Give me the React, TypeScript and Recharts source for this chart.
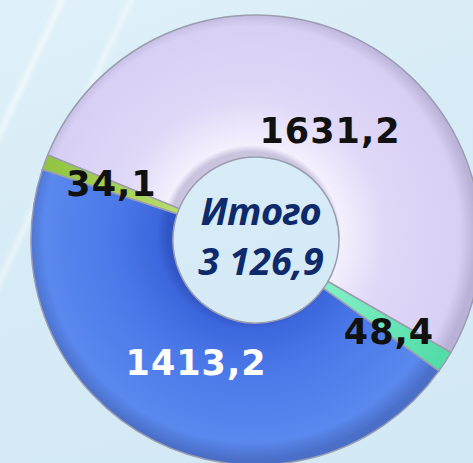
import { PieChart, Pie, Cell, Label } from "recharts";

// values (RU decimal comma)
const sliceNames = ["a", "b", "c", "d"];
const sliceValues = [1631.2, 34.1, 1413.2, 48.4];
const sliceLabels = ["1631,2", "34,1", "1413,2", "48,4"];
const totalTitle = "Итого";
const totalValue = "3 126,9";

const FILLS = ["url(#lav)", "url(#lime)", "url(#blue)", "url(#aqua)"];
const LABEL_COLORS = ["#111", "#111", "#fff", "#111"];
// label placement tweaks per slice: radius and angle shift (deg)
const LABEL_R = [132, 155, 137, 162];
const LABEL_DA = [-8, -1, 1, -2];

const CX = 251;
const CY = 235;
const R_IN = 83;
const R_OUT = 225;

const data = sliceNames.map((n, i) => ({ name: n, value: sliceValues[i] }));

const RAD = Math.PI / 180;

const renderLabel = (props: any) => {
  const { cx, cy, midAngle, index } = props;
  const a = (midAngle + LABEL_DA[index]) * RAD;
  const x = cx + LABEL_R[index] * Math.cos(a);
  const y = cy - LABEL_R[index] * Math.sin(a);
  return (
    <text
      x={x}
      y={y}
      textAnchor="middle"
      dominantBaseline="central"
      fill={LABEL_COLORS[index]}
      style={{
        fontFamily: "DejaVu Sans",
        fontWeight: 700,
        fontSize: 35,
        letterSpacing: 1,
      }}
    >
      {sliceLabels[index]}
    </text>
  );
};

const CenterText = (props: any) => {
  const vb = props.viewBox || {};
  const cx = vb.cx ?? CX;
  const cy = vb.cy ?? CY;
  const st = {
    fontFamily: "'Noto Sans', sans-serif",
    fontWeight: 700,
    fontStyle: "italic",
    fontSize: 38,
  } as const;
  return (
    <g>
      <text x={cx + 10} y={cy - 10} textAnchor="middle" fill="#0e2a6b" style={st}>
        {totalTitle}
      </text>
      <text x={cx + 10} y={cy + 40} textAnchor="middle" fill="#0e2a6b" style={st}>
        {totalValue}
      </text>
    </g>
  );
};

export default function App() {
  const f = R_IN / R_OUT;
  return (
    <div
      style={{
        position: "fixed",
        left: 0,
        top: 0,
        width: 473,
        height: 463,
        overflow: "hidden",
        background:
          "linear-gradient(115deg, transparent 8%, rgba(255,255,255,0.5) 9%, transparent 10%, transparent 18%, rgba(255,255,255,0.4) 19%, transparent 20%), linear-gradient(160deg, #dff0f9 0%, #d6ebf6 45%, #d2e8f4 100%)",
      }}
    >
      <PieChart width={473} height={463}>
        <defs>
          <radialGradient id="lav" gradientUnits="userSpaceOnUse" cx={CX} cy={CY} r={R_OUT}>
            <stop offset={f} stopColor="#c9c3de" />
            <stop offset={f + 0.03} stopColor="#f3effd" />
            <stop offset={0.6} stopColor="#e0d8f7" />
            <stop offset={0.93} stopColor="#d8cff4" />
            <stop offset={1} stopColor="#b9b1d6" />
          </radialGradient>
          <radialGradient id="blue" gradientUnits="userSpaceOnUse" cx={CX} cy={CY} r={R_OUT}>
            <stop offset={f} stopColor="#3055c4" />
            <stop offset={f + 0.05} stopColor="#3d67dd" />
            <stop offset={0.6} stopColor="#4a78e8" />
            <stop offset={0.92} stopColor="#5a88ee" />
            <stop offset={1} stopColor="#4a6fc8" />
          </radialGradient>
          <radialGradient id="lime" gradientUnits="userSpaceOnUse" cx={CX} cy={CY} r={R_OUT}>
            <stop offset={f} stopColor="#b6dc6a" />
            <stop offset={1} stopColor="#8ec23c" />
          </radialGradient>
          <radialGradient id="aqua" gradientUnits="userSpaceOnUse" cx={CX} cy={CY} r={R_OUT}>
            <stop offset={f} stopColor="#86f0c8" />
            <stop offset={1} stopColor="#52dca8" />
          </radialGradient>
        </defs>
        <Pie
          data={data}
          dataKey="value"
          cx={CX}
          cy={CY}
          innerRadius={R_IN}
          outerRadius={R_OUT}
          startAngle={-30}
          endAngle={330}
          stroke="#9c9cb0"
          strokeWidth={1.5}
          label={renderLabel}
          labelLine={false}
          isAnimationActive={false}
        >
          {data.map((_, i) => (
            <Cell key={i} fill={FILLS[i]} />
          ))}
          <Label position="center" content={<CenterText />} />
        </Pie>
      </PieChart>
    </div>
  );
}
